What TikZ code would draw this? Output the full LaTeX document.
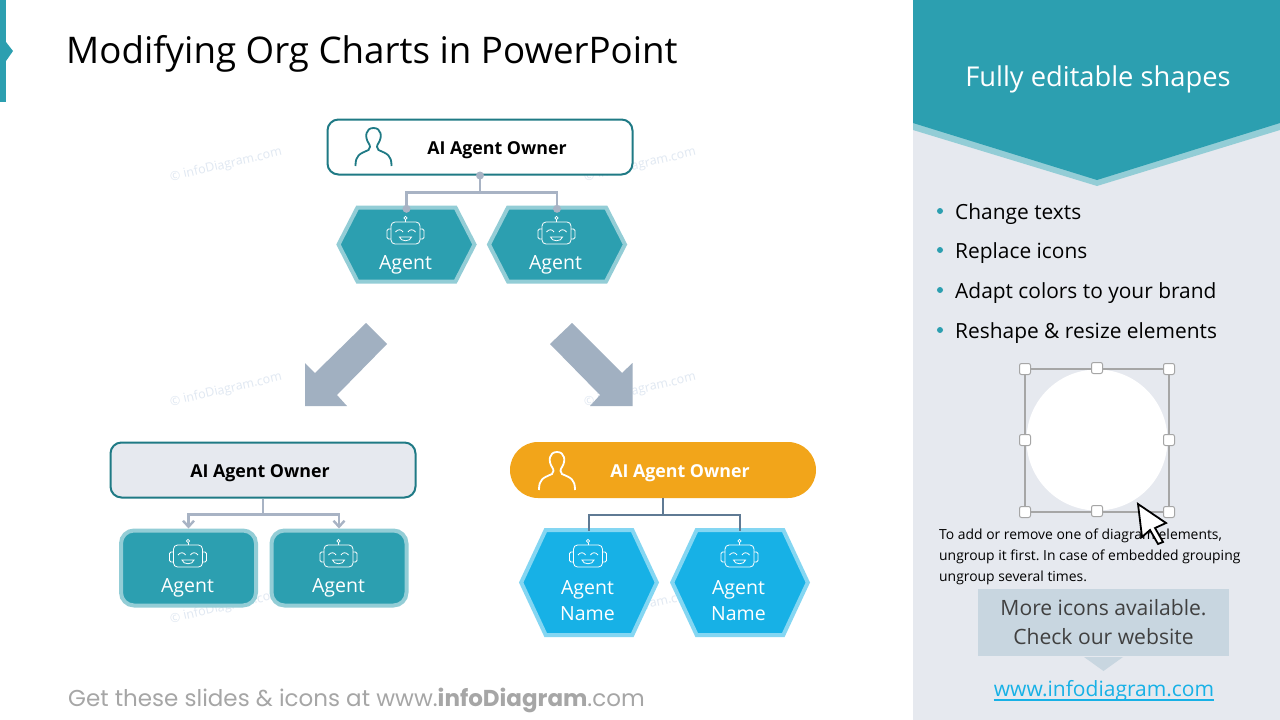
\documentclass[tikz,border=0pt]{standalone}
\usepackage{fontspec}
\setmainfont{Open Sans}
\newfontfamily\footfont{Poppins}
\usetikzlibrary{arrows.meta}
\newlength{\du}
\setlength{\du}{1pt}
\definecolor{tealmain}{HTML}{2C9FB0}
\definecolor{teallight}{HTML}{93CDD6}
\definecolor{tealdark}{HTML}{1F7A85}
\definecolor{bluemain}{HTML}{17B1E6}
\definecolor{bluelight}{HTML}{84D6F2}
\definecolor{orangemain}{HTML}{F2A51A}
\definecolor{sidegrey}{HTML}{E6E9EF}
\definecolor{arrowgrey}{HTML}{A1B0C1}
\definecolor{linegrey}{HTML}{A8B3C4}
\definecolor{linedark}{HTML}{5F7A94}
\definecolor{notegrey}{HTML}{C8D6E0}
\definecolor{markgrey}{HTML}{E0E8F2}
\definecolor{handlegrey}{HTML}{A6A6A6}
\newcommand{\sz}[1]{\fontsize{#1}{#1}\selectfont}
\newcommand{\hexnode}[7]{
\draw[#7] (#2\du-#4\du,#3\du) -- (#2\du-#4\du+#6\du,#3\du-#5\du) -- (#2\du+#4\du-#6\du,#3\du-#5\du) -- (#2\du+#4\du,#3\du) -- (#2\du+#4\du-#6\du,#3\du+#5\du) -- (#2\du-#4\du+#6\du,#3\du+#5\du) -- cycle;
\node[inner sep=0pt,minimum width=2*#4\du,minimum height=2*#5\du-3\du] (#1) at (#2\du,#3\du) {};
}
\tikzset{
  ownerbox/.style={draw=tealdark,line width=2\du,rounded corners=11\du,minimum width=305\du,minimum height=55\du,inner sep=0pt},
  ownerlabel/.style={font=\sz{17.8}\bfseries,inner sep=0pt},
  hexteal/.style={fill=tealmain,draw=teallight,line width=4\du},
  hexblue/.style={fill=bluemain,draw=bluelight,line width=4\du},
  roundteal/.style={rectangle,rounded corners=13\du,fill=tealmain,draw=teallight,line width=4\du,minimum width=135\du,minimum height=75\du,inner sep=0pt},
  agentlabel/.style={font=\sz{19.5},text=white,inner sep=0pt},
  watermark/.style={font=\sz{12.5},text=markgrey,rotate=13,inner sep=0pt},
  bulletlabel/.style={font=\sz{20.9},anchor=west,inner sep=0pt},
  bulletdot/.style={circle,fill=tealmain,minimum size=6\du,inner sep=0pt},
  handle/.style={draw=handlegrey,fill=white,line width=1\du,rounded corners=2\du,minimum size=11\du,inner sep=0pt},
  smallnote/.style={font=\sz{13.9},anchor=west,inner sep=0pt},
  moretext/.style={font=\sz{21.1},text=black!75,inner sep=0pt},
  robot/.pic={
    \draw[rounded corners=4\du] (-14.5\du,-11\du) rectangle (14.5\du,11\du);
    \draw[rounded corners=1.5\du] (-14.5\du,-4\du) -- (-18.5\du,-4\du) -- (-18.5\du,6\du) -- (-14.5\du,6\du);
    \draw[rounded corners=1.5\du] (14.5\du,-4\du) -- (18.5\du,-4\du) -- (18.5\du,6\du) -- (14.5\du,6\du);
    \draw (0\du,-11\du) -- (0\du,-13.5\du);
    \draw (0\du,-15\du) circle (1.6\du);
    \draw (-10\du,-1\du) .. controls (-8\du,-4\du) and (-4\du,-4\du) .. (-2.5\du,-1\du);
    \draw (10\du,-1\du) .. controls (8\du,-4\du) and (4\du,-4\du) .. (2.5\du,-1\du);
    \draw (-6\du,4\du) -- (6\du,4\du) .. controls (5\du,9\du) and (-5\du,9\du) .. (-6\du,4\du) -- cycle;
  },
  person/.pic={
    \draw (-18\du,19\du) .. controls (-18\du,8\du) and (-14\du,7\du) .. (-5\du,3\du)
      .. controls (-3\du,1\du) and (-3\du,-1\du) .. (-5\du,-4\du)
      .. controls (-9\du,-10\du) and (-8\du,-19\du) .. (0\du,-19\du)
      .. controls (8\du,-19\du) and (9\du,-10\du) .. (5\du,-4\du)
      .. controls (3\du,-1\du) and (3\du,1\du) .. (5\du,3\du)
      .. controls (14\du,7\du) and (18\du,8\du) .. (18\du,19\du);
  }
}
\begin{document}
\frenchspacing
\begin{tikzpicture}
\pgftransformxscale{1.000000}
\pgftransformyscale{-1.000000}
\useasboundingbox (0\du,0\du) rectangle (1280\du,720\du);
\fill[white] (0\du,0\du) rectangle (1280\du,720\du);
% side panel
\fill[sidegrey] (913\du,0\du) rectangle (1280\du,720\du);
\fill[teallight] (913\du,122\du) -- (1097\du,178\du) -- (1280\du,122\du) -- (1280\du,130\du) -- (1097\du,186\du) -- (913\du,130\du) -- cycle;
\fill[tealmain] (913\du,0\du) -- (1280\du,0\du) -- (1280\du,123\du) -- (1097\du,180\du) -- (913\du,123\du) -- cycle;
\node[font=\sz{27.3},text=white,inner sep=0pt] (sidetitle) at (1098\du,79\du) {Fully editable shapes};
% page mark and title
\fill[tealmain] (0\du,0\du) rectangle (6\du,102\du);
\fill[tealmain] (6\du,42\du) -- (13\du,51\du) -- (6\du,61\du) -- cycle;
\node[font=\sz{36.7},anchor=west,inner sep=0pt] (title) at (66\du,54\du) {Modifying Org Charts in PowerPoint};
% watermarks
\node[watermark] (markA) at (226\du,165\du) {© infoDiagram.com};
\node[watermark] (markB) at (640\du,165\du) {© infoDiagram.com};
\node[watermark] (markC) at (226\du,390\du) {© infoDiagram.com};
\node[watermark] (markD) at (640\du,390\du) {© infoDiagram.com};
\node[watermark] (markE) at (226\du,607\du) {© infoDiagram.com};
\node[watermark] (markF) at (640\du,607\du) {© infoDiagram.com};
% top chart
\node[ownerbox,fill=white] (ownerTop) at (480\du,147\du) {};
\node[ownerlabel] (ownerTopLabel) at (497\du,150\du) {AI Agent Owner};
\pic[yscale=-1,draw=tealdark,line width=1.8\du] at (373.5\du,147\du) {person};
\hexnode{agentA}{406.5}{244.5}{68}{37}{19}{hexteal}
\hexnode{agentB}{557}{244.5}{68}{37}{19}{hexteal}
\draw[linegrey,line width=2.4\du] (ownerTop.south) -- ++(0\du,17\du) -| (agentA.north);
\draw[linegrey,line width=2.4\du] (ownerTop.south) -- ++(0\du,17\du) -| (agentB.north);
\fill[linegrey] (ownerTop.south) circle (4\du);
\fill[linegrey] (agentA.north) circle (4\du);
\fill[linegrey] (agentB.north) circle (4\du);
\pic[yscale=-1,draw=white,line width=0.8\du] at (405.5\du,233\du) {robot};
\pic[yscale=-1,draw=white,line width=0.8\du] at (556.5\du,233\du) {robot};
\node[agentlabel] (agentALabel) at (405.5\du,265\du) {Agent};
\node[agentlabel] (agentBLabel) at (555.5\du,265\du) {Agent};
% big arrows
\fill[arrowgrey] (366\du,323\du) -- (387\du,344\du) -- (337\du,395\du) -- (347\du,406\du) -- (305\du,406\du) -- (305\du,363\du) -- (315\du,373\du) -- cycle;
\fill[arrowgrey] (572\du,323\du) -- (550\du,344\du) -- (600\du,395\du) -- (590\du,406\du) -- (632.5\du,406\du) -- (632.5\du,363\du) -- (622\du,373\du) -- cycle;
% left chart
\node[ownerbox,fill=sidegrey] (ownerLeft) at (263\du,470\du) {};
\node[ownerlabel] (ownerLeftLabel) at (260\du,473\du) {AI Agent Owner};
\node[roundteal] (agentC) at (188.5\du,568\du) {};
\node[roundteal] (agentD) at (339\du,568\du) {};
\draw[linegrey,line width=2.4\du,-{Straight Barb[length=6pt,width=11pt]}] (ownerLeft.south) -- ++(0\du,16\du) -| (agentC.north);
\draw[linegrey,line width=2.4\du,-{Straight Barb[length=6pt,width=11pt]}] (ownerLeft.south) -- ++(0\du,16\du) -| (agentD.north);
\pic[yscale=-1,draw=white,line width=0.8\du] at (188\du,556\du) {robot};
\pic[yscale=-1,draw=white,line width=0.8\du] at (338.5\du,556\du) {robot};
\node[agentlabel] (agentCLabel) at (187.5\du,588\du) {Agent};
\node[agentlabel] (agentDLabel) at (338.5\du,588\du) {Agent};
% right chart
\node[rectangle,rounded corners=28\du,fill=orangemain,minimum width=306\du,minimum height=56\du,inner sep=0pt] (ownerRight) at (663\du,470\du) {};
\node[ownerlabel,text=white] (ownerRightLabel) at (680\du,473\du) {AI Agent Owner};
\pic[yscale=-1,draw=white,line width=1.8\du] at (557\du,471\du) {person};
\hexnode{agentE}{589}{582.5}{67.8}{52.5}{24.5}{hexblue}
\hexnode{agentF}{740}{582.5}{67.8}{52.5}{24.5}{hexblue}
\draw[linedark,line width=2.4\du] (ownerRight.south) -- ++(0\du,17\du) -| (agentE.north);
\draw[linedark,line width=2.4\du] (ownerRight.south) -- ++(0\du,17\du) -| (agentF.north);
\pic[yscale=-1,draw=white,line width=0.8\du] at (588\du,556\du) {robot};
\pic[yscale=-1,draw=white,line width=0.8\du] at (739.5\du,556\du) {robot};
\node[agentlabel,align=center] (agentELabel) at (587.5\du,600.5\du) {Agent\\[6.5\du]Name};
\node[agentlabel,align=center] (agentFLabel) at (738.5\du,600.5\du) {Agent\\[6.5\du]Name};
% footer
\node[font=\footfont\sz{23},text=handlegrey,anchor=west,inner sep=0pt] (footer) at (68\du,700\du) {Get these slides \& icons at www.\textbf{infoDiagram}.com};
% bullets
\node[bulletdot] (dotA) at (940\du,211\du) {};
\node[bulletdot] (dotB) at (940\du,250\du) {};
\node[bulletdot] (dotC) at (940\du,290\du) {};
\node[bulletdot] (dotD) at (940\du,330\du) {};
\node[bulletlabel] (bulletA) at (955\du,214.5\du) {Change texts};
\node[bulletlabel] (bulletB) at (955\du,253.5\du) {Replace icons};
\node[bulletlabel] (bulletC) at (955\du,293.5\du) {Adapt colors to your brand};
\node[bulletlabel] (bulletD) at (955\du,333.5\du) {Reshape \& resize elements};
% selected circle
\fill[white] (1097\du,440\du) circle (70.5\du);
\draw[handlegrey,line width=2\du] (1025\du,369\du) rectangle (1168.5\du,512\du);
\node[handle] (handleA) at (1025\du,369\du) {};
\node[handle] (handleB) at (1097\du,368\du) {};
\node[handle] (handleC) at (1169\du,369\du) {};
\node[handle] (handleD) at (1025\du,440\du) {};
\node[handle] (handleE) at (1169\du,440\du) {};
\node[handle] (handleF) at (1025\du,512\du) {};
\node[handle] (handleG) at (1097\du,511\du) {};
\node[handle] (handleH) at (1169\du,512\du) {};
% note text
\node[smallnote] (noteA) at (939\du,536\du) {To add or remove one of diagram elements,};
\node[smallnote] (noteB) at (939\du,557\du) {ungroup it first. In case of embedded grouping};
\node[smallnote] (noteC) at (939\du,578\du) {ungroup several times.};
\draw[black,fill=white,line width=1.8\du,line join=miter] (1138\du,504\du) -- (1166\du,523\du) -- (1155\du,528\du) -- (1163\du,542\du) -- (1158\du,544\du) -- (1150\du,530\du) -- (1142\du,537\du) -- cycle;
% website box
\fill[notegrey] (978\du,589\du) rectangle (1229\du,656\du);
\fill[notegrey] (1084\du,657\du) -- (1123\du,657\du) -- (1103.5\du,671\du) -- cycle;
\node[moretext] (moreA) at (1103.5\du,608\du) {More icons available.};
\node[moretext] (moreB) at (1103.5\du,637\du) {Check our website};
\node[font=\sz{21},text=bluemain,inner sep=0pt] (weblink) at (1104\du,691\du) {www.infodiagram.com};
\draw[bluemain,line width=1.4\du] (weblink.south west) ++(0\du,-1.7\du) -- ++(220\du,0\du);
\end{tikzpicture}
\end{document}
